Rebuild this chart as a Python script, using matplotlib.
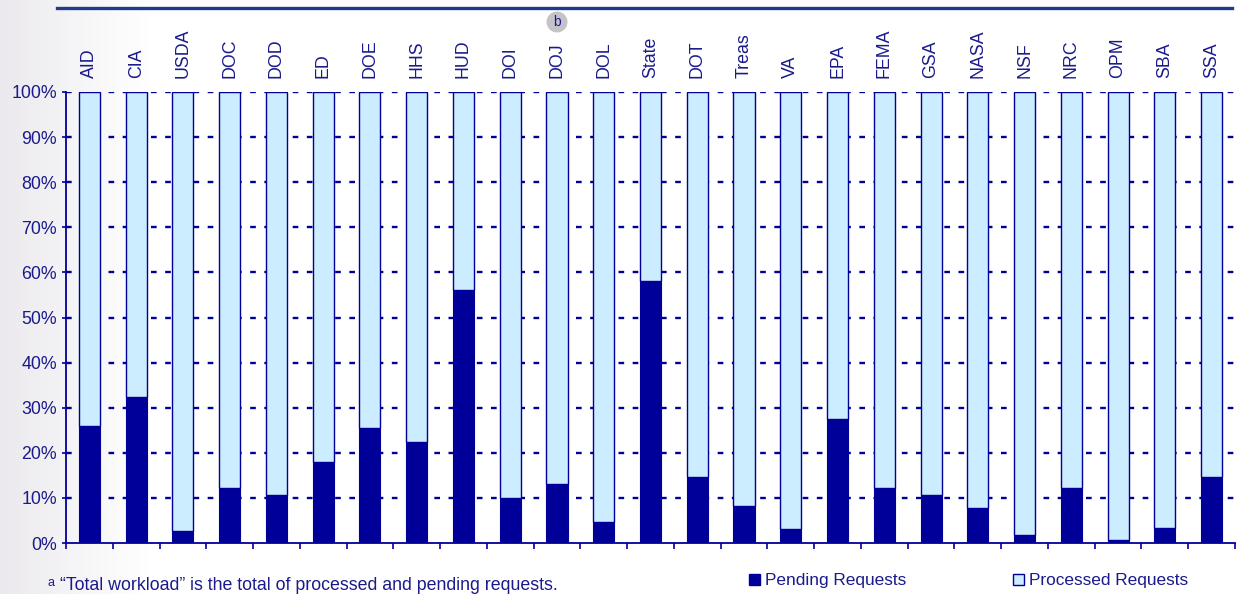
import numpy as np
import matplotlib
matplotlib.use('Agg')
import matplotlib.pyplot as plt
from matplotlib.patches import Patch

plt.rcParams['font.family'] = ['Liberation Sans', 'DejaVu Sans']

# ------------------------------- data -------------------------------
agencies = ['AID', 'CIA', 'USDA', 'DOC', 'DOD', 'ED', 'DOE', 'HHS', 'HUD', 'DOI',
            'DOJ', 'DOL', 'State', 'DOT', 'Treas', 'VA', 'EPA', 'FEMA', 'GSA',
            'NASA', 'NSF', 'NRC', 'OPM', 'SBA', 'SSA']
pending = [26.0, 32.4, 2.6, 12.3, 10.6, 18.0, 25.6, 22.4, 56.1, 9.9,
           13.1, 4.7, 58.1, 14.7, 8.2, 3.1, 27.5, 12.3, 10.7,
           7.8, 1.8, 12.3, 0.6, 3.4, 14.7]
processed = [100 - p for p in pending]
yticks = [0, 10, 20, 30, 40, 50, 60, 70, 80, 90, 100]

NAVY = '#000099'
LIGHT = '#ccecff'
TXT = '#1a1a8c'
FS = 12.8

fig = plt.figure(figsize=(12.38, 5.94), dpi=100)

# faint shading on the left edge of the slide
bg = fig.add_axes([0, 0, 0.12, 1], zorder=-5)
grad = np.linspace(0, 1, 200)[None, :]
bg.imshow(grad, aspect='auto', cmap=matplotlib.colors.LinearSegmentedColormap.from_list(
    'bg', ['#ebe9ed', '#ffffff']), extent=(0, 1, 0, 1))
bg.axis('off')

ax = fig.add_axes([66 / 1238, 51 / 594, (1235 - 66) / 1238, (543 - 92) / 594])
ax.patch.set_alpha(0)

x = np.arange(len(agencies))
ax.bar(x, pending, width=0.45, color=NAVY, edgecolor=NAVY, linewidth=0.8, zorder=3)
ax.bar(x, processed, width=0.45, bottom=pending, color=LIGHT, edgecolor=NAVY,
       linewidth=1.0, zorder=3)

ax.set_xlim(-0.5, len(agencies) - 0.5)
ax.set_ylim(0, 100)
ax.set_yticks(yticks)
ax.set_yticklabels([f'{v}%' for v in yticks], color=TXT, fontsize=FS)
ax.set_xticks([])
ax.set_xticks(np.arange(len(agencies) + 1) - 0.5, minor=True)
ax.tick_params(axis='x', which='minor', direction='out', length=4.5, width=1.2, color=NAVY)
ax.tick_params(axis='y', direction='out', length=3, width=1.2, color=NAVY, pad=3.5)

for yv in yticks[1:]:
    ax.axhline(yv, color=NAVY, lw=1.7, ls=(0, (2.4, 3.6)), zorder=1)

for s in ['top', 'right']:
    ax.spines[s].set_visible(False)
for s in ['left', 'bottom']:
    ax.spines[s].set_color(NAVY)
    ax.spines[s].set_linewidth(1.3)

# agency names above the bars
for i, name in enumerate(agencies):
    ax.text(i, 103.1, name, rotation=90, ha='center', va='bottom', color=TXT,
            fontsize=FS, clip_on=False)

# header rule and "b" note marker
fig.add_artist(plt.Line2D([57 / 1238, 1232 / 1238], [1 - 8 / 594] * 2,
                          color='#1f3c8c', lw=2.4))
fig.text(557 / 1238, 1 - 22 / 594, 'b', ha='center', va='center', color=TXT,
         fontsize=10, bbox=dict(boxstyle='circle,pad=0.25', fc='#c4c4c8', ec='none'))

# legend
LFS = 12.4
fig.legend(handles=[Patch(facecolor=NAVY, edgecolor=NAVY)], labels=['Pending Requests'],
           loc='center left', bbox_to_anchor=(740 / 1238, 1 - 581 / 594), frameon=False,
           handlelength=0.65, handleheight=0.65, handletextpad=0.3, fontsize=LFS,
           labelcolor=TXT, borderpad=0)
fig.legend(handles=[Patch(facecolor=LIGHT, edgecolor=NAVY)], labels=['Processed Requests'],
           loc='center left', bbox_to_anchor=(1004 / 1238, 1 - 581 / 594), frameon=False,
           handlelength=0.65, handleheight=0.65, handletextpad=0.3, fontsize=LFS,
           labelcolor=TXT, borderpad=0)

# footnote at the very bottom edge
fig.text(48 / 1238, 1 - 586 / 594, 'a', fontsize=9, color=TXT, va='baseline')
fig.text(60 / 1238, 1 - 590 / 594,
         '\u201cTotal workload\u201d is the total of processed and pending requests.',
         fontsize=FS, color=TXT, va='baseline')

fig.savefig('out.png', dpi=100)
